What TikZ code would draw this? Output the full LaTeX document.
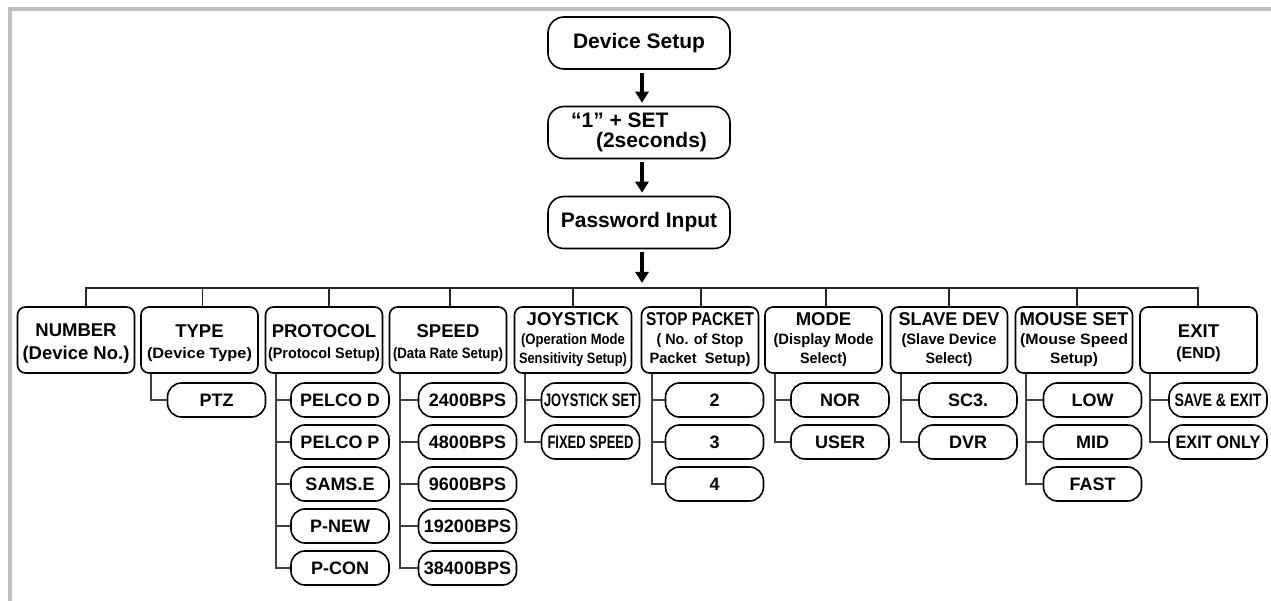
\documentclass[tikz,border=0pt]{standalone}
\usepackage{fontspec}
\setmainfont{Liberation Sans}
\usepackage{graphicx}
\usetikzlibrary{arrows.meta}
\newcommand\sqz[2]{\resizebox{#1pt}{\height}{#2}}
\newcommand\tfnt{\fontsize{18.5}{19}\selectfont}
\begin{document}
\begin{tikzpicture}[x=1pt,y=-1pt,
 topbox/.style={draw, line width=1.6pt, rounded corners=16pt, minimum width=182pt, minimum height=52pt, inner sep=0pt, font=\bfseries\fontsize{21}{20}\selectfont},
 parbox/.style={draw, line width=1.6pt, rounded corners=8pt, minimum width=117pt, minimum height=66pt, inner sep=0pt, align=center, font=\bfseries\fontsize{15}{19}\selectfont},
 kid/.style={draw, line width=1.6pt, rounded corners=14pt, minimum width=98pt, minimum height=34pt, inner sep=0pt, font=\bfseries\fontsize{18}{20}\selectfont},
 arr/.style={line width=3.5pt, -{Triangle[width=13pt,length=11pt]}},
 wire/.style={line width=1.3pt, black!85},
 trunk/.style={line width=1.8pt, black!75},
 frame/.style={line width=4pt, black!25}]
\useasboundingbox (0,0) rectangle (1271,601);
\fill[white] (0,0) rectangle (1271,601);
\draw[frame] (9.5,601) -- (9.5,9.5) -- (1271,9.5);

% top chain
\node[topbox] (ds) at (639,43) {Device Setup};
\node[topbox, align=left] (set) at (639,132.5) {“1” + SET\\\hspace*{25pt}(2seconds)};
\node[topbox] (pw) at (639,222.5) {Password Input};
\coordinate (bus) at (642,288);
\draw[arr, shorten <=3pt, shorten >=3pt] ([xshift=3pt]ds.south) -- ([xshift=3pt]set.north);
\draw[arr, shorten <=3pt, shorten >=3pt] ([xshift=3pt]set.south) -- ([xshift=3pt]pw.north);
\draw[arr, shorten <=3pt, shorten >=5pt] ([xshift=3pt]pw.south) -- (bus);

% parents
\node[parbox] (p1) at (76,340) {\rule{0pt}{8pt}\\[-8pt]{\tfnt NUMBER}\\[4pt]{\tfnt (Device No.)}};
\node[parbox] (p2) at (199.5,340) {\rule{0pt}{8pt}\\[-8pt]{\tfnt TYPE}\\[2pt]\sqz{105}{(Device Type)}};
\node[parbox] (p3) at (324,340) {\rule{0pt}{8pt}\\[-8pt]{\tfnt PROTOCOL}\\[2pt]\sqz{112}{(Protocol Setup)}};
\node[parbox] (p4) at (448,340) {\rule{0pt}{8pt}\\[-8pt]{\tfnt SPEED}\\[2pt]\sqz{110}{(Data Rate Setup)}};
\node[parbox] (p5) at (573,340) {{\tfnt JOYSTICK}\\\sqz{104}{(Operation Mode}\\\sqz{108}{Sensitivity Setup)}};
\node[parbox] (p6) at (700,340) {{\tfnt\sqz{108}{STOP PACKET}}\\\sqz{87}{( No. of Stop}\\\sqz{101}{Packet\ \ Setup)}};
\node[parbox] (p7) at (823.5,340) {{\tfnt MODE}\\\sqz{100}{(Display Mode}\\\sqz{47}{Select)}};
\node[parbox] (p8) at (949,340) {{\tfnt\sqz{101}{SLAVE DEV}}\\\sqz{95}{(Slave Device}\\\sqz{47}{Select)}};
\node[parbox] (p9) at (1074,340) {{\tfnt MOUSE SET}\\\sqz{108}{(Mouse Speed}\\\sqz{48}{Setup)}};
\node[parbox] (p10) at (1198.5,340) {\rule{0pt}{8pt}\\[-8pt]{\tfnt EXIT}\\[2pt]{\fontsize{16}{19}\selectfont (END)}};

% bus and drops
\draw[wire] ([xshift=10pt]p1.north) -- ([xshift=10pt]p1.north |- bus) -- ([xshift=-0.5pt]p10.north |- bus) -- ([xshift=-0.5pt]p10.north);
\draw[wire] ([xshift=3pt]p2.north) -- ([xshift=3pt]p2.north |- bus);
\draw[wire] ([xshift=5pt]p3.north) -- ([xshift=5pt]p3.north |- bus);
\draw[wire] ([xshift=2pt]p4.north) -- ([xshift=2pt]p4.north |- bus);
\draw[wire] (p5.north) -- (p5.north |- bus);
\draw[wire] ([xshift=1pt]p6.north) -- ([xshift=1pt]p6.north |- bus);
\draw[wire] ([xshift=2.5pt]p7.north) -- ([xshift=2.5pt]p7.north |- bus);
\draw[wire] (p8.north) -- (p8.north |- bus);
\draw[wire] ([xshift=3pt]p9.north) -- ([xshift=3pt]p9.north |- bus);

% children
\node[kid] (c21) at (216.5,400) {PTZ};
\node[kid] (c31) at (340,400) {PELCO D};
\node[kid] (c32) at (340,442) {PELCO P};
\node[kid] (c33) at (340,484) {SAMS.E};
\node[kid] (c34) at (340,526) {P-NEW};
\node[kid] (c35) at (340,568) {P-CON};
\node[kid] (c41) at (467.5,400) {2400BPS};
\node[kid] (c42) at (467.5,442) {4800BPS};
\node[kid] (c43) at (467.5,484) {9600BPS};
\node[kid] (c44) at (467.5,526) {19200BPS};
\node[kid] (c45) at (467.5,568) {38400BPS};
\node[kid] (c51) at (590.5,400) {\sqz{93}{JOYSTICK SET}};
\node[kid] (c52) at (590.5,442) {\sqz{86}{FIXED SPEED}};
\node[kid] (c61) at (714.5,400) {2};
\node[kid] (c62) at (714.5,442) {3};
\node[kid] (c63) at (714.5,484) {4};
\node[kid] (c71) at (840,400) {NOR};
\node[kid] (c72) at (840,442) {USER};
\node[kid] (c81) at (968,400) {SC3.};
\node[kid] (c82) at (968,442) {DVR};
\node[kid] (c91) at (1092.5,400) {LOW};
\node[kid] (c92) at (1092.5,442) {MID};
\node[kid] (c93) at (1092.5,484) {FAST};
\node[kid] (c101) at (1218,400) {\sqz{87}{SAVE \& EXIT}};
\node[kid] (c102) at (1218,442) {\sqz{85}{EXIT ONLY}};

% trunks
\draw[trunk] ([xshift=11pt]p2.south west) |- (c21.west);
\foreach \p/\last/\others in {p3/c35/{c31,c32,c33,c34}, p4/c45/{c41,c42,c43,c44}, p5/c52/{c51}, p6/c63/{c61,c62}, p7/c72/{c71}, p8/c82/{c81}, p9/c93/{c91,c92}, p10/c102/{c101}}{
  \draw[trunk] ([xshift=11pt]\p.south west) |- (\last.west);
  \foreach \c in \others {\draw[trunk] (\c.west) -- ([xshift=11pt]\p.south west |- \c.west);}
}
\end{tikzpicture}
\end{document}
